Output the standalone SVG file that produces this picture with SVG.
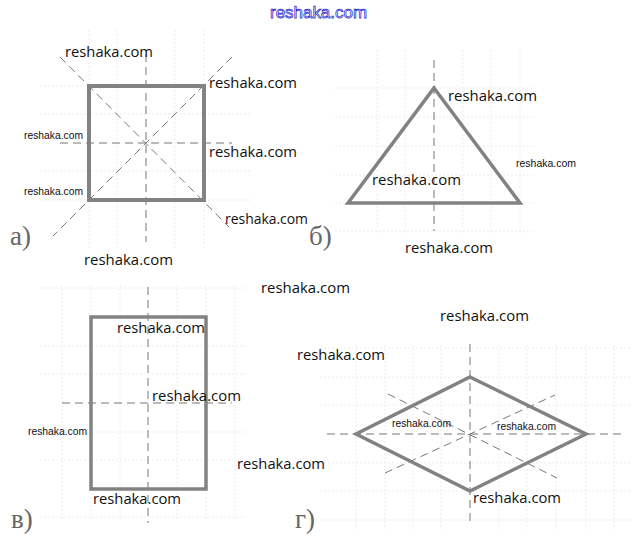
<svg xmlns="http://www.w3.org/2000/svg" width="633" height="556" viewBox="0 0 633 556">
<style>
.grid line{stroke:#ececec;stroke-width:1;stroke-dasharray:2 2}
.fig{fill:none;stroke:#828282;stroke-linejoin:miter}
.axis{stroke:#777;stroke-width:1;stroke-dasharray:8 5;fill:none}
.wm{font-family:"Open Sans","Liberation Sans",sans-serif;font-size:15px;fill:#111}
.wms{font-family:"Liberation Sans","DejaVu Sans",sans-serif;font-size:11px;fill:#111}
.lbl{font-family:"Liberation Serif","DejaVu Serif",serif;font-size:27px;fill:#666}
.hdr{font-family:"Liberation Sans",Arial,sans-serif;font-size:17px;fill:#fff;stroke:#2a2ad0;stroke-width:0.75}
</style>
<rect width="633" height="556" fill="#fff"/>
<g id="grid" class="grid">
<line x1="89" y1="30" x2="89" y2="250"/><line x1="117" y1="30" x2="117" y2="250"/><line x1="175" y1="30" x2="175" y2="250"/><line x1="204" y1="30" x2="204" y2="250"/>
<line x1="40" y1="86" x2="250" y2="86"/><line x1="40" y1="114" x2="250" y2="114"/><line x1="40" y1="171" x2="250" y2="171"/><line x1="40" y1="200" x2="250" y2="200"/>
<line x1="377" y1="50" x2="377" y2="235"/><line x1="405" y1="50" x2="405" y2="235"/><line x1="463" y1="50" x2="463" y2="235"/><line x1="491" y1="50" x2="491" y2="235"/><line x1="520" y1="50" x2="520" y2="235"/>
<line x1="335" y1="88" x2="535" y2="88"/><line x1="335" y1="117" x2="535" y2="117"/><line x1="335" y1="146" x2="535" y2="146"/><line x1="335" y1="175" x2="535" y2="175"/><line x1="335" y1="203" x2="535" y2="203"/><line x1="335" y1="231" x2="535" y2="231"/>
<line x1="62" y1="285" x2="62" y2="520"/><line x1="91" y1="285" x2="91" y2="520"/><line x1="120" y1="285" x2="120" y2="520"/><line x1="177" y1="285" x2="177" y2="520"/><line x1="206" y1="285" x2="206" y2="520"/><line x1="235" y1="285" x2="235" y2="520"/>
<line x1="40" y1="288" x2="245" y2="288"/><line x1="40" y1="346" x2="245" y2="346"/><line x1="40" y1="374" x2="245" y2="374"/><line x1="40" y1="432" x2="245" y2="432"/><line x1="40" y1="460" x2="245" y2="460"/><line x1="40" y1="517" x2="245" y2="517"/>
<line x1="356" y1="345" x2="356" y2="530"/><line x1="385" y1="345" x2="385" y2="530"/><line x1="413" y1="345" x2="413" y2="530"/><line x1="441" y1="345" x2="441" y2="530"/><line x1="499" y1="345" x2="499" y2="530"/><line x1="527" y1="345" x2="527" y2="530"/><line x1="556" y1="345" x2="556" y2="530"/><line x1="586" y1="345" x2="586" y2="530"/><line x1="614" y1="345" x2="614" y2="530"/>
<line x1="320" y1="348" x2="630" y2="348"/><line x1="320" y1="377" x2="630" y2="377"/><line x1="320" y1="405" x2="630" y2="405"/><line x1="320" y1="463" x2="630" y2="463"/><line x1="320" y1="491" x2="630" y2="491"/><line x1="320" y1="520" x2="630" y2="520"/>
</g>
<g id="connectors">
<line class="axis" x1="146" y1="54" x2="146" y2="242"/>
<line class="axis" x1="60" y1="143" x2="232" y2="143"/>
<line class="axis" x1="60" y1="57" x2="229" y2="227"/>
<line class="axis" x1="232" y1="57" x2="53" y2="236"/>
<line class="axis" x1="434" y1="60" x2="434" y2="231"/>
<line class="axis" x1="148" y1="287" x2="148" y2="523"/>
<line class="axis" x1="62" y1="403" x2="232" y2="403"/>
<line class="axis" x1="327" y1="434" x2="623" y2="434"/>
<line class="axis" x1="470" y1="344" x2="470" y2="523"/>
<line class="axis" x1="388" y1="394" x2="557" y2="478"/>
<line class="axis" x1="385" y1="473" x2="555" y2="395"/>
</g>
<g id="square-a"><rect class="fig" x="89" y="86" width="115" height="114" stroke-width="4"/></g>
<g id="triangle-b"><polygon class="fig" points="434,88 520,203 348,203" stroke-width="3.5"/></g>
<g id="rect-c"><rect class="fig" x="91" y="317" width="115" height="172" stroke-width="3.5"/></g>
<g id="rhombus-d"><polygon class="fig" points="470,377 586,434 470,491 356,434" stroke-width="3.5"/></g>
<g id="labels">
<text class="lbl" x="10" y="245">а)</text>
<text class="lbl" x="309" y="245">б)</text>
<text class="lbl" x="11" y="528">в)</text>
<text class="lbl" x="295" y="528">г)</text>
</g>
<g id="watermarks">
<text class="hdr" x="270" y="18" textLength="97" lengthAdjust="spacingAndGlyphs">reshaka.com</text>
<text class="wm" x="65" y="57" textLength="88" lengthAdjust="spacingAndGlyphs">reshaka.com</text>
<text class="wm" x="209" y="88" textLength="88" lengthAdjust="spacingAndGlyphs">reshaka.com</text>
<text class="wms" x="24" y="139" textLength="59" lengthAdjust="spacingAndGlyphs">reshaka.com</text>
<text class="wm" x="209" y="157" textLength="88" lengthAdjust="spacingAndGlyphs">reshaka.com</text>
<text class="wms" x="24" y="195" textLength="59" lengthAdjust="spacingAndGlyphs">reshaka.com</text>
<text class="wm" x="225" y="224" textLength="83" lengthAdjust="spacingAndGlyphs">reshaka.com</text>
<text class="wm" x="84" y="265" textLength="89" lengthAdjust="spacingAndGlyphs">reshaka.com</text>
<text class="wm" x="448" y="101" textLength="89" lengthAdjust="spacingAndGlyphs">reshaka.com</text>
<text class="wms" x="516" y="167" textLength="60" lengthAdjust="spacingAndGlyphs">reshaka.com</text>
<text class="wm" x="372" y="185" textLength="89" lengthAdjust="spacingAndGlyphs">reshaka.com</text>
<text class="wm" x="405" y="253" textLength="88" lengthAdjust="spacingAndGlyphs">reshaka.com</text>
<text class="wm" x="261" y="293" textLength="89" lengthAdjust="spacingAndGlyphs">reshaka.com</text>
<text class="wm" x="440" y="321" textLength="89" lengthAdjust="spacingAndGlyphs">reshaka.com</text>
<text class="wm" x="117" y="333" textLength="88" lengthAdjust="spacingAndGlyphs">reshaka.com</text>
<text class="wm" x="297" y="360" textLength="88" lengthAdjust="spacingAndGlyphs">reshaka.com</text>
<text class="wm" x="152" y="401" textLength="89" lengthAdjust="spacingAndGlyphs">reshaka.com</text>
<text class="wms" x="28" y="435" textLength="59" lengthAdjust="spacingAndGlyphs">reshaka.com</text>
<text class="wms" x="392" y="427" textLength="59" lengthAdjust="spacingAndGlyphs">reshaka.com</text>
<text class="wms" x="497" y="430" textLength="59" lengthAdjust="spacingAndGlyphs">reshaka.com</text>
<text class="wm" x="237" y="469" textLength="88" lengthAdjust="spacingAndGlyphs">reshaka.com</text>
<text class="wm" x="93" y="504" textLength="88" lengthAdjust="spacingAndGlyphs">reshaka.com</text>
<text class="wm" x="473" y="503" textLength="88" lengthAdjust="spacingAndGlyphs">reshaka.com</text>
</g>
</svg>
